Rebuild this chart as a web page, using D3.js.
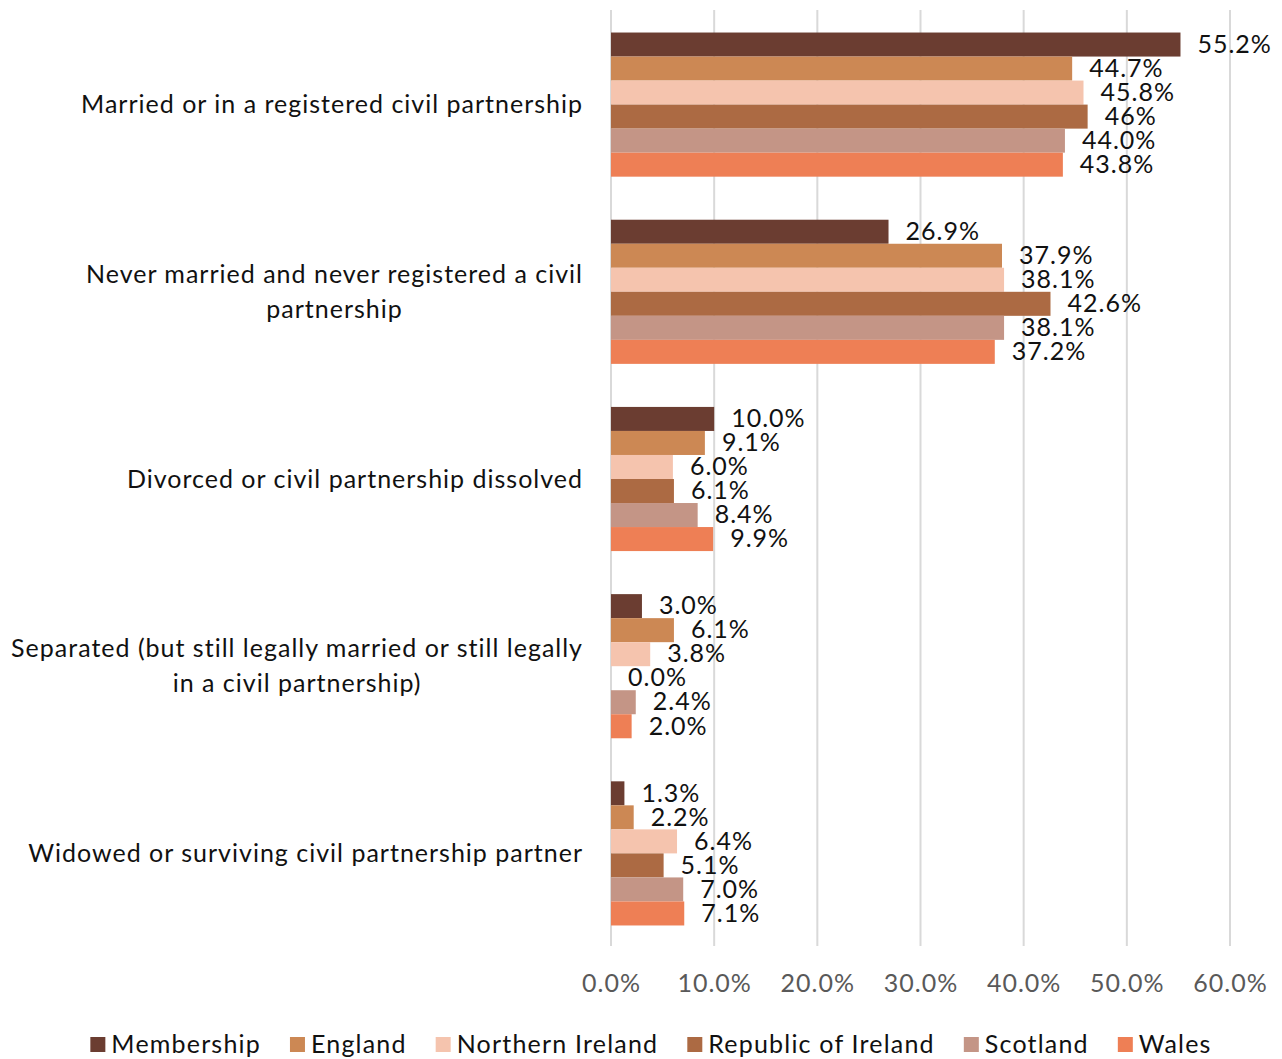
<!DOCTYPE html>
<html>
<head>
<meta charset="utf-8">
<script src="https://cdn.jsdelivr.net/npm/d3@7"></script>
<style>
  body { margin: 0; background: #fff; }
  svg { display: block; font-family: Lato, "Noto Sans", sans-serif; }
  svg text { letter-spacing: 1px; }
</style>
</head>
<body>
<svg class="svgChart"></svg>
<script>
// categories (top to bottom), lines for wrapped labels
var categories = [
  "Married or in a registered civil partnership",
  "Never married and never registered a civil partnership",
  "Divorced or civil partnership dissolved",
  "Separated (but still legally married or still legally in a civil partnership)",
  "Widowed or surviving civil partnership partner"
];
var categoryLines = [
  ["Married or in a registered civil partnership"],
  ["Never married and never registered a civil", "partnership"],
  ["Divorced or civil partnership dissolved"],
  ["Separated (but still legally married or still legally", "in a civil partnership)"],
  ["Widowed or surviving civil partnership partner"]
];

var seriesNames = ["Membership", "England", "Northern Ireland", "Republic of Ireland", "Scotland", "Wales"];
var seriesColors = ["#6b3d31", "#cc8854", "#f5c4ae", "#ac6a43", "#c49586", "#ee7f55"];

// values in %, one array per series, same order as categories
var membership = [55.2, 26.9, 10.0, 3.0, 1.3];
var england = [44.7, 37.9, 9.1, 6.1, 2.2];
var northernIreland = [45.8, 38.1, 6.0, 3.8, 6.4];
var republicOfIreland = [46.2, 42.6, 6.1, 0.0, 5.1];
var scotland = [44.0, 38.1, 8.4, 2.4, 7.0];
var wales = [43.8, 37.2, 9.9, 2.0, 7.1];

// labels as printed on the chart
var membershipLabels = ["55.2%", "26.9%", "10.0%", "3.0%", "1.3%"];
var englandLabels = ["44.7%", "37.9%", "9.1%", "6.1%", "2.2%"];
var northernIrelandLabels = ["45.8%", "38.1%", "6.0%", "3.8%", "6.4%"];
var republicOfIrelandLabels = ["46%", "42.6%", "6.1%", "0.0%", "5.1%"];
var scotlandLabels = ["44.0%", "38.1%", "8.4%", "2.4%", "7.0%"];
var walesLabels = ["43.8%", "37.2%", "9.9%", "2.0%", "7.1%"];

var xTicks = [0, 10, 20, 30, 40, 50, 60];

var seriesValues = [membership, england, northernIreland, republicOfIreland, scotland, wales];
var seriesLabels = [membershipLabels, englandLabels, northernIrelandLabels, republicOfIrelandLabels, scotlandLabels, walesLabels];

var W = 1282, H = 1059;
var fontSize = 25;

var svg = d3.select('.svgChart')
  .attr('width', W)
  .attr('height', H);

var xScale = d3.scaleLinear()
  .domain([0, 60])
  .range([611, 1230]);

var yScale = d3.scaleBand()
  .domain(categories)
  .range([11, 947])
  .paddingInner(0.23)
  .paddingOuter(0.115);

var ySub = d3.scaleBand()
  .domain(seriesNames)
  .range([0, yScale.bandwidth()]);

var color = d3.scaleOrdinal()
  .domain(seriesNames)
  .range(seriesColors);

// gridlines
svg.append('g')
    .attr('class', 'grid')
  .selectAll('line')
  .data(xTicks)
  .enter()
  .append('line')
    .attr('x1', d => xScale(d))
    .attr('x2', d => xScale(d))
    .attr('y1', 10)
    .attr('y2', 946)
    .attr('stroke', '#d9d9d9')
    .attr('stroke-width', 2);

// x axis labels
var xAxis = d3.axisBottom(xScale)
  .tickValues(xTicks)
  .tickSize(0)
  .tickPadding(0)
  .tickFormat(d => d.toFixed(1) + '%');

svg.append('g')
    .attr('class', 'xAxis')
    .attr('transform', 'translate(0,974)')
    .call(xAxis)
    .call(g => g.select('.domain').remove())
    .selectAll('text')
      .attr('fill', '#595959')
      .attr('font-size', fontSize)
      .attr('font-family', 'Lato, "Noto Sans", sans-serif');

// rows of data: one record per category x series
var rows = [];
categories.forEach(function(c, i){
  seriesNames.forEach(function(s, j){
    rows.push({cat: c, series: s, value: seriesValues[j][i], label: seriesLabels[j][i]});
  });
});

var groups = svg.append('g')
    .attr('class', 'chart')
  .selectAll('g')
  .data(categories)
  .enter()
  .append('g')
    .attr('transform', d => 'translate(0,' + yScale(d) + ')');

groups.selectAll('rect')
  .data(c => rows.filter(r => r.cat === c))
  .enter()
  .append('rect')
    .attr('x', xScale(0))
    .attr('y', d => ySub(d.series))
    .attr('width', d => xScale(d.value) - xScale(0))
    .attr('height', ySub.bandwidth())
    .attr('fill', d => color(d.series));

groups.selectAll('text')
  .data(c => rows.filter(r => r.cat === c))
  .enter()
  .append('text')
    .attr('x', d => xScale(d.value) + 17)
    .attr('y', d => ySub(d.series) + ySub.bandwidth() / 2)
    .attr('dy', '0.33em')
    .attr('font-size', fontSize)
    .attr('fill', '#111')
    .text(d => d.label);

// category labels
var catG = svg.append('g').attr('class', 'yLabels');
categories.forEach(function(c, i){
  var lines = categoryLines[i];
  var cy = yScale(c) + yScale.bandwidth() / 2;
  var lh = 35;
  var t = catG.append('text')
    .attr('font-size', fontSize)
    .attr('fill', '#111');
  lines.forEach(function(l, k){
    t.append('tspan')
      .attr('x', 0)
      .attr('y', cy + (k - (lines.length - 1) / 2) * lh)
      .attr('dy', '0.35em')
      .text(l);
  });
  // right-align the block, centre lines inside it
  var widths = [];
  t.selectAll('tspan').each(function(){ widths.push(this.getComputedTextLength()); });
  var maxW = d3.max(widths);
  var center = 583 - maxW / 2;
  t.attr('text-anchor', 'middle')
    .selectAll('tspan').attr('x', center);
});

// legend
var legend = svg.append('g').attr('class', 'legend');
var xPos = 0;
seriesNames.forEach(function(s){
  var item = legend.append('g').attr('transform', 'translate(' + xPos + ',0)');
  item.append('rect')
    .attr('x', 0)
    .attr('y', -7)
    .attr('width', 15)
    .attr('height', 15)
    .attr('fill', color(s));
  var txt = item.append('text')
    .attr('x', 21)
    .attr('dy', '0.35em')
    .attr('font-size', fontSize)
    .attr('fill', '#111')
    .style('letter-spacing', '1.2px')
    .text(s);
  xPos += 21 + txt.node().getComputedTextLength() + 29;
});
var legendW = xPos - 29;
legend.attr('transform', 'translate(' + (651 - legendW / 2) + ',1044)');
</script>
</body>
</html>
